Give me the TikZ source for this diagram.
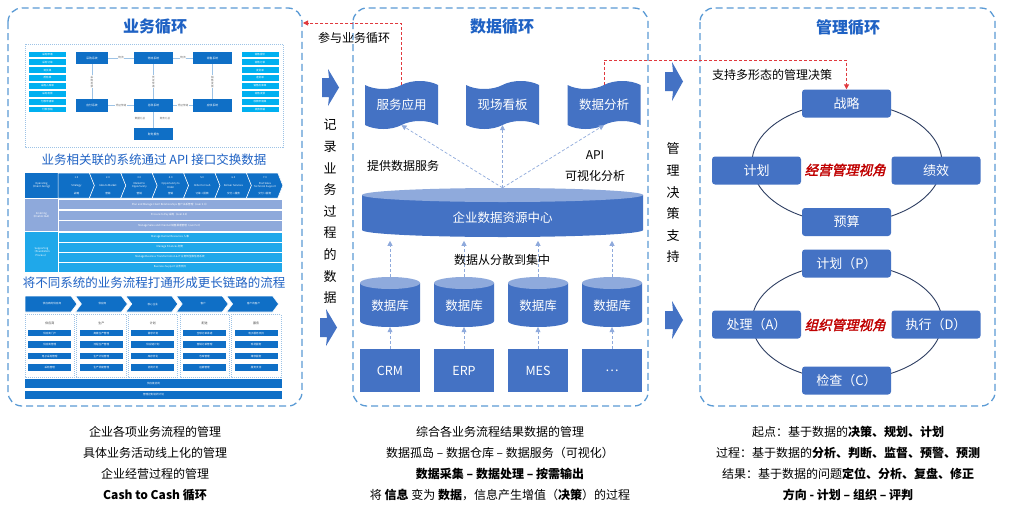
\documentclass[tikz,border=0pt]{standalone}
\usepackage{fontspec}
\setmainfont{Noto Sans CJK SC}
\newfontfamily\slantfont[FakeSlant=0.25,FakeBold=2]{Noto Sans CJK SC}
\usetikzlibrary{shapes.geometric,shapes.symbols,arrows.meta}
\definecolor{panelblue}{HTML}{5B9BD5}
\definecolor{titleblue}{HTML}{1F62C4}
\definecolor{boxblue}{HTML}{4472C4}
\definecolor{cyltop}{HTML}{8FAADC}
\definecolor{lightarrow}{HTML}{8FAADC}
\definecolor{reddash}{HTML}{E0393E}
\definecolor{redtext}{HTML}{C00000}
\definecolor{thcyan}{HTML}{00B0F0}
\definecolor{thblue}{HTML}{0F6FC6}
\definecolor{thlav}{HTML}{8EA9DB}
\definecolor{thsup}{HTML}{1FA8EA}
\definecolor{thline}{HTML}{9DC3E6}
\definecolor{navy}{HTML}{2F3F63}
\tikzset{
  panel/.style={draw=panelblue, line width=1.3pt, dash pattern=on 7pt off 4pt, rounded corners=14pt},
  ttl/.style={font=\fontsize{16}{18}\selectfont\bfseries, text=titleblue, inner sep=0},
  lbl/.style={font=\fontsize{12}{14}\selectfont, text=black, inner sep=0},
  vch/.style={font=\fontsize{13}{14}\selectfont, text=black, inner sep=0},
  bluelbl/.style={font=\fontsize{12.5}{14}\selectfont, text=titleblue, inner sep=0},
  tapebox/.style={shape=tape, tape bend top=in and out, tape bend bottom=in and out, tape bend height=8pt, fill=boxblue, text=white, minimum width=73pt, minimum height=48pt, font=\fontsize{12.5}{14}\selectfont, inner sep=0},
  srcbox/.style={fill=boxblue, text=white, minimum width=60pt, minimum height=43pt, font=\fontsize{12.5}{14}\selectfont, inner sep=0},
  cyltext/.style={text=white, font=\fontsize{12.5}{14}\selectfont, inner sep=0},
  mbox/.style={fill=boxblue, text=white, rounded corners=3pt, minimum width=89pt, minimum height=28pt, font=\fontsize{13}{14}\selectfont, inner sep=0},
  redlbl/.style={text=redtext, font=\fontsize{13.5}{14}\slantfont, inner sep=0},
  dasharrow/.style={draw=lightarrow, line width=0.7pt, dash pattern=on 3pt off 2pt, -{Triangle[length=5pt,width=5pt]}},
  redarrow/.style={draw=reddash, line width=1pt, dash pattern=on 3pt off 2pt, -{Triangle[length=5pt,width=5pt]}},
  bigarrow/.style={fill=boxblue},
  tinyw/.style={font=\fontsize{2.6}{3.4}\selectfont, text=white, inner sep=0, align=center},
  tinyd/.style={font=\fontsize{3}{3.6}\selectfont, text=black!75, inner sep=0, align=center},
  thlist/.style={fill=thcyan, minimum width=37pt, minimum height=5.6pt, inner sep=0, font=\fontsize{2.6}{3}\selectfont, text=white},
  thbox/.style={fill=thblue, text=white, font=\fontsize{2.8}{3}\selectfont, minimum height=12.5pt, inner sep=0},
  thconn/.style={draw=thline, line width=0.6pt},
  thtag/.style={fill=white, text=black!60, font=\fontsize{2.6}{3}\selectfont, inner sep=0.6pt, align=center},
  thdot/.style={draw=thline, line width=0.5pt, dash pattern=on 1pt off 1pt},
  bot/.style={font=\fontsize{12}{14}\selectfont, text=black, inner sep=0}
}
\begin{document}
\begin{tikzpicture}[x=1pt,y=-1pt]
\useasboundingbox (0,0) rectangle (1024,506);
\fill[white] (0,0) rectangle (1024,506);

% ---------------- panels ----------------
\draw[panel] (8,8) rectangle (302,406);
\draw[panel] (353,8) rectangle (648,406);
\draw[panel] (700,8) rectangle (995,406);
\node[ttl] (t1) at (155,27) {业务循环};
\node[ttl] (t2) at (502,27) {数据循环};
\node[ttl] (t3) at (848,27) {管理循环};

% ---------------- left panel: top thumbnail ----------------
\draw[thdot] (25,44) rectangle (283,147);
\foreach \t [count=\i from 0] in {采购申请,采购订单,到货单,质检单,采购入库单,采购发票,付款申请单,付款核销}
  \node[thlist] at (47.5,54.3+\i*7.9) {\t};
\foreach \t [count=\i from 0] in {销售报价,销售订单,发货单,退货单,销售出库单,销售发票,收款申请单,收款核销}
  \node[thlist] at (260,54.3+\i*7.9) {\t};
\node[thbox, minimum width=32pt] (cg) at (92,58) {采购系统};
\node[thbox, minimum width=39pt] (wl) at (153.5,58) {物流系统};
\node[thbox, minimum width=39pt] (xs) at (212.5,58) {销售系统};
\node[thbox, minimum width=32pt] (yf) at (92,105.5) {应付系统};
\node[thbox, minimum width=39pt] (zz) at (153.5,105.5) {总账系统};
\node[thbox, minimum width=39pt] (ysx) at (212.5,105.5) {应收系统};
\node[thbox, minimum width=39pt] (cwb) at (153.5,134) {财务报告};
\draw[thconn] (cg) -- node[thtag]{物流} (wl);
\draw[thconn] (wl) -- node[thtag]{物流} (xs);
\draw[thconn] (yf) -- node[thtag]{凭证传递} (zz);
\draw[thconn] (zz) -- node[thtag]{凭证传递} (ysx);
\draw[thconn] (cg) -- node[thtag]{采\\购\\发\\票} (yf);
\draw[thconn] (wl) -- node[thtag]{凭\\证\\传\\递} (zz);
\draw[thconn] (xs) -- node[thtag]{销\\售\\发\\票} (ysx);
\draw[thconn] (zz) -- (cwb);
\node[thtag] (tg1) at (140,119) {数据汇总};
\node[thtag] (tg2) at (165,119) {财务汇总};

\node[bluelbl] (l1) at (154,160) {业务相关联的系统通过 API 接口交换数据};

% ---------------- left panel: middle thumbnail ----------------
\node[fill=thblue, minimum width=33pt, minimum height=25pt, tinyw] (op) at (41.5,185.5) {Operating\\（Client-facing）};
\node[fill=thlav, minimum width=33pt, minimum height=32pt, tinyw] (en) at (41.5,215) {Enabling\\（Enable 3\&4）};
\node[fill=thsup, minimum width=33pt, minimum height=40pt, tinyw] (sp) at (41.5,252) {Supporting\\（Foundation\\Process）};
\foreach \n/\a/\b [count=\i from 0] in {1.0/Strategy/战略, 2.0/Idea to Market/营销, 3.0/Market to\\Opportunity/营销, 4.0/Opportunity to\\Order/营销, 5.0/Order to Cash/订单→回款, 6.0/Deliver Services/交付→服务, 7.0/Post Sales\\Technical Support/交付→服务}{
  \pgfmathsetmacro\xo{58+\i*31.4}
  \pgfmathsetmacro\nt{\i==0?0:5}
  \fill[thblue, draw=white, line width=0.5pt] (\xo,173) -- (\xo+31.4,173) -- (\xo+36.4,185.5) -- (\xo+31.4,198) -- (\xo,198) -- (\xo+\nt,185.5) -- cycle;
  \node[tinyw] at (\xo+18.5,178) {\n};
  \node[tinyw] at (\xo+18.5,185.5) {\a};
  \node[tinyw] at (\xo+18.5,193.5) {\b};
}
\foreach \t [count=\i from 0] in {Plan and Manage Client Relationships 客户关系管理（over 3.0）, Procure to Pay 采购（over 4.0）, Manage Sales and Channel 销售渠道管理（over 5.0）}
  \node[fill=thlav, draw=white, line width=0.4pt, minimum width=224pt, minimum height=10.5pt, tinyw] at (170,204.3+\i*10.7) {\t};
\foreach \t [count=\i from 0] in {Manage Human Resources 人事, Manage Finances 财务, Manage Business Transformation \& IT 业务转型和信息系统, Business Support 业务支持}
  \node[fill=thsup, draw=white, line width=0.4pt, minimum width=224pt, minimum height=10pt, tinyw] at (170,237+\i*10) {\t};

\node[bluelbl] (l2) at (154,283) {将不同系统的业务流程打通形成更长链路的流程};

% ---------------- left panel: bottom thumbnail ----------------
\foreach \t [count=\i from 0] in {供应商的供应商,供应商,核心企业,客户,客户的客户}{
  \pgfmathsetmacro\xo{25+\i*50.4}
  \pgfmathsetmacro\nt{\i==0?0:6}
  \fill[thblue, draw=white, line width=0.6pt] (\xo,296) -- (\xo+46,296) -- (\xo+52,304) -- (\xo+46,312) -- (\xo,312) -- (\xo+\nt,304) -- cycle;
  \node[tinyw] at (\xo+27,304) {\t};
}
\foreach \h/\a/\b/\c/\d [count=\i from 0] in {供应商/供应商门户/供应商管理/电子采购管理/采购管理, 生产/离散生产管理/流程生产管理/生产计划管理/生产调度管理, 计划/需求计划/供应链计划/库存优化/协同计划, 配送/全球订单承诺/营销订单管理/仓库管理/运输管理, 服务/电子服务支持/现场服务/维修服务/服务支持}{
  \pgfmathsetmacro\xo{25+\i*51.6}
  \draw[thdot] (\xo,314) rectangle (\xo+49.5,377);
  \node[tinyd] at (\xo+24.75,323) {\h};
  \foreach \it [count=\j from 0] in {\a,\b,\c,\d}
    \node[fill=thblue, minimum width=43pt, minimum height=6.5pt, tinyw] at (\xo+24.75,333.2+\j*11.5) {\it};
}
\node[fill=thblue, minimum width=257pt, minimum height=9pt, tinyw] (bb1) at (153.5,383.5) {供应链协同};
\node[fill=thblue, minimum width=257pt, minimum height=8.5pt, tinyw] (bb2) at (153.5,395) {管理控制协同计划};

% ---------------- arrows between panels ----------------
\fill[bigarrow] (322,78) -- (329,78) -- (328,69) -- (339,87.5) -- (328,106) -- (329,97) -- (322,97) -- cycle;
\fill[bigarrow] (320,318) -- (327,318) -- (326,309) -- (337,327.5) -- (326,346) -- (327,337) -- (320,337) -- cycle;
\fill[bigarrow] (665,72) -- (673,72) -- (672,62) -- (683,81.5) -- (672,101) -- (673,91) -- (665,91) -- cycle;
\fill[bigarrow] (665,311) -- (673,311) -- (672,301) -- (683,320) -- (672,339) -- (673,329) -- (665,329) -- cycle;
\foreach \c [count=\i from 0] in {记,录,业,务,过,程,的,数,据}
  \node[vch] at (330,125+\i*21.6) {\c};
\foreach \c [count=\i from 0] in {管,理,决,策,支,持}
  \node[vch] at (673,149+\i*21.6) {\c};

% ---------------- middle panel ----------------
\node[tapebox] (app) at (401.5,105) {服务应用};
\node[tapebox] (brd) at (502.5,105) {现场看板};
\node[tapebox] (ana) at (604,105) {数据分析};

% big cylinder
\fill[boxblue] (362,195) -- (362,230) arc[start angle=180, end angle=0, x radius=140.5, y radius=7] -- (643,195) -- cycle;
\fill[cyltop] (502.5,195) ellipse[x radius=140.5, y radius=7];
\node[cyltext, minimum width=281pt, minimum height=49pt] (dc) at (502.5,212.5) {};
\node[cyltext] (dct) at (502.5,218) {企业数据资源中心};

% small cylinders and sources
\foreach \x/\nm/\src/\sn in {390/db1/CRM/s1, 464/db2/ERP/s2, 538/db3/MES/s3, 612/db4/…/s4}{
  \fill[boxblue] (\x-30,283) -- (\x-30,321) arc[start angle=180, end angle=0, x radius=30, y radius=6] -- (\x+30,283) -- cycle;
  \fill[cyltop] (\x,283) ellipse[x radius=30, y radius=6];
  \node[cyltext, minimum width=60pt, minimum height=50pt] (\nm) at (\x,302) {};
  \node[cyltext] at (\x,306) {数据库};
  \node[srcbox] (\sn) at (\x,370.5) {\src};
  \draw[dasharrow] (\sn.north) -- (\nm.south);
  \draw[dasharrow] (\nm.north) -- ++(0,-36);
}
\draw[dasharrow] (dc.north) -- (app.south);
\draw[dasharrow] (dc.north) -- (brd.south);
\draw[dasharrow] (dc.north) -- (ana.south);

\node[lbl] (p1) at (354,38) {参与业务循环};
\node[lbl] (p2) at (403,166) {提供数据服务};
\node[lbl] (p3) at (595,155) {API};
\node[lbl] (p4) at (595,176) {可视化分析};
\node[lbl] (p5) at (502,260) {数据从分散到集中};

% ---------------- right panel ----------------
\draw[navy, line width=0.9pt] (847,163) ellipse[x radius=95, y radius=60];
\draw[navy, line width=0.9pt] (847,322) ellipse[x radius=95, y radius=58];
\node[mbox] (zl) at (846.5,103.5) {战略};
\node[mbox] (jh) at (756.5,170.5) {计划};
\node[mbox] (jx) at (936,170.5) {绩效};
\node[mbox] (ys) at (846.5,222) {预算};
\node[mbox] (pp) at (846.5,263.5) {计划（P）};
\node[mbox] (aa) at (756.5,324.5) {处理（A）};
\node[mbox] (dd) at (936,324.5) {执行（D）};
\node[mbox] (cc) at (846.5,380.5) {检查（C）};
\node[redlbl] (r1) at (845,170) {经营管理视角};
\node[redlbl] (r2) at (845,325) {组织管理视角};
\node[lbl] (p6) at (772,75) {支持多形态的管理决策};

% red dashed links
\coordinate (lpe) at (303,23);
\draw[redarrow] (app.north) |- (lpe);
\draw[redarrow] (ana.north) |- (zl.north |- 0,60) -- (zl.north);

% ---------------- bottom texts ----------------
\node[bot] (b11) at (155,432) {企业各项业务流程的管理};
\node[bot] (b12) at (155,453) {具体业务活动线上化的管理};
\node[bot] (b13) at (155,474) {企业经营过程的管理};
\node[bot] (b14) at (155,495) {\textbf{Cash to Cash 循环}};
\node[bot] (b21) at (500,432) {综合各业务流程结果数据的管理};
\node[bot] (b22) at (500,453) {数据孤岛 – 数据仓库 – 数据服务（可视化）};
\node[bot] (b23) at (500,474) {\textbf{数据采集 – 数据处理 – 按需输出}};
\node[bot] (b24) at (500,495) {将 \textbf{信息} 变为 \textbf{数据}，信息产生增值（\textbf{决策}）的过程};
\node[bot] (b31) at (848,432) {起点：基于数据的\textbf{决策、规划、计划}};
\node[bot] (b32) at (848,453) {过程：基于数据的\textbf{分析、判断、监督、预警、预测}};
\node[bot] (b33) at (848,474) {结果：基于数据的问题\textbf{定位、分析、复盘、修正}};
\node[bot] (b34) at (848,495) {\textbf{方向 - 计划 – 组织 – 评判}};
\end{tikzpicture}
\end{document}
